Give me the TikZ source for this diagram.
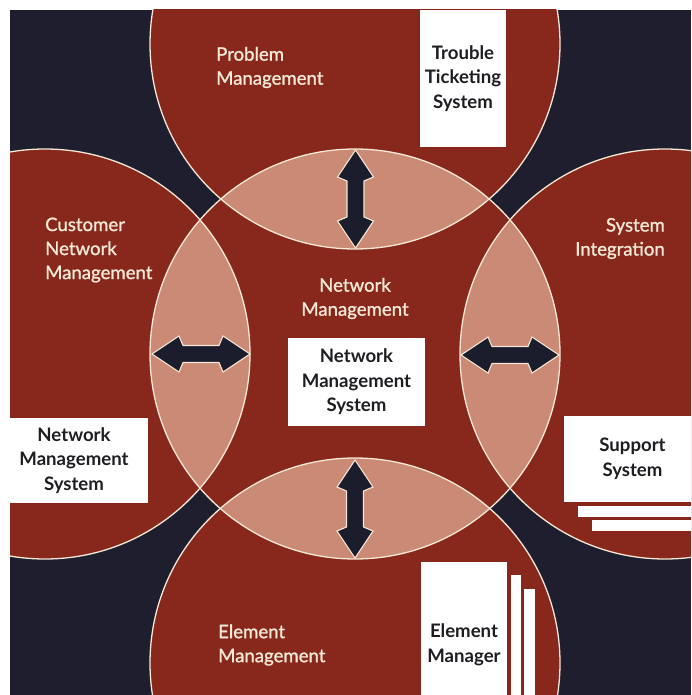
\documentclass[tikz,border=0pt]{standalone}
\usepackage{fontspec}
\setmainfont{Lato}
\newfontfamily\lblfont{Lato}[FakeBold=1.2]
\definecolor{navy}{RGB}{30,30,46}
\definecolor{brick}{RGB}{136,40,29}
\definecolor{lenscol}{RGB}{203,138,117}
\definecolor{cream}{RGB}{245,232,214}
\definecolor{ink}{RGB}{30,30,34}
\definecolor{arrowfill}{RGB}{27,28,44}
\begin{document}
\begin{tikzpicture}[x=1pt,y=-1pt,
  ring/.style={draw=cream,line width=1.3pt},
  lbl/.style={text=cream,font=\lblfont\fontsize{18.6}{24}\selectfont,inner sep=0pt},
  wbox/.style={fill=white,inner sep=0pt,text=ink,font=\bfseries\fontsize{18.6}{24.5}\selectfont,align=center},
  dbl/.pic={\fill[arrowfill,draw=cream,line width=1.1pt,line join=miter]
    (-49,0) -- (-22,-18) -- (-18,-8.5) -- (18,-8.5) -- (22,-18) -- (49,0)
    -- (22,18) -- (18,8.5) -- (-18,8.5) -- (-22,18) -- cycle;}]
\useasboundingbox (0,0) rectangle (691,695);
\fill[navy] (10,10) rectangle (691,695);
\begin{scope}
\clip (10,10) rectangle (691,695);
\coordinate (C) at (355,354);
\coordinate (T) at (355,44);
\coordinate (L) at (45,354);
\coordinate (R) at (665,354);
\coordinate (B) at (355,663);
\foreach \c in {C,T,L,R,B} \fill[brick] (\c) circle (205pt);
\begin{scope}
\clip (C) circle (205pt);
\foreach \c in {T,L,R,B} \fill[lenscol] (\c) circle (205pt);
\end{scope}
\foreach \c in {C,T,L,R,B} \draw[ring] (\c) circle (205pt);
% arrows
\pic[rotate=90] at (355.5,199) {dbl};
\pic[rotate=90] at (355,509) {dbl};
\pic at (201,354) {dbl};
\pic at (510,355) {dbl};
% boxes
\node[wbox,minimum width=86pt,minimum height=137pt] (tts) at (463,78.5) {Trouble\\Ticketing\\System};
\node[wbox,minimum width=148pt,minimum height=85pt] (nmsL) at (74,460.5) {Network\\Management\\System};
\node[wbox,minimum width=137pt,minimum height=88pt] (nmsC) at (356.5,382) {Network\\Management\\System};
\node[wbox,minimum width=137pt,minimum height=86pt] (sup) at (632.5,459) {Support\\System};
\fill[white] (578,506) rectangle (720,517);
\fill[white] (592,520) rectangle (720,531);
\node[wbox,minimum width=86pt,minimum height=166pt] (emgr) at (464,645) {Element\\Manager};
\fill[white] (511,575) rectangle (521,700);
\fill[white] (524,589) rectangle (535,700);
% labels
\node[lbl,anchor=west,align=left] (pm) at (216,67.5) {Problem\\Management};
\node[lbl,anchor=west,align=left] (cnm) at (45,250) {Customer\\Network\\Management};
\node[lbl,align=center] (nm) at (355,298.5) {Network\\Management};
\node[lbl,anchor=east,align=right] (si) at (665,238.5) {System\\Integration};
\node[lbl,anchor=west,align=left] (em) at (218,645) {Element\\Management};
\end{scope}
\end{tikzpicture}
\end{document}
